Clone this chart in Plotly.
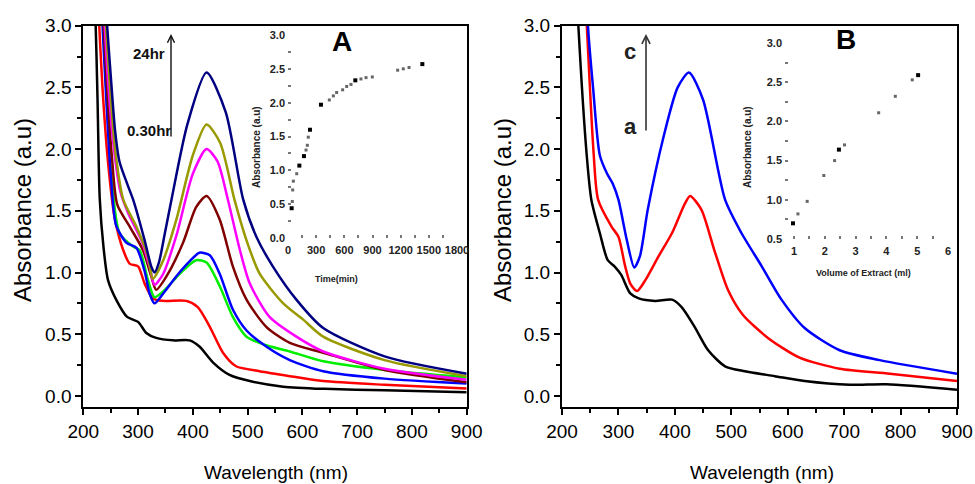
import plotly.graph_objects as go

# ---------------- Panel A spectra (wavelength nm, absorbance) ----------------
A_black_wl = [218, 222, 226, 230, 237, 245, 260, 280, 300, 315, 333, 364, 394, 412, 437, 467, 504, 565, 640, 750, 900]
A_black_ab = [3.5, 3.1, 2.4, 1.6, 1.2, 0.94, 0.78, 0.64, 0.60, 0.51, 0.47, 0.45, 0.45, 0.40, 0.27, 0.17, 0.12, 0.075, 0.057, 0.045, 0.03]

A_red_wl = [224, 228, 235, 245, 257, 273, 285, 300, 312, 327, 346, 388, 409, 431, 455, 479, 522, 577, 638, 750, 900]
A_red_ab = [3.5, 3.1, 2.5, 1.9, 1.45, 1.18, 1.07, 1.05, 0.91, 0.79, 0.77, 0.77, 0.72, 0.56, 0.35, 0.24, 0.20, 0.16, 0.12, 0.09, 0.06]

A_blue_wl = [230, 234, 242, 250, 260, 279, 297, 312, 321, 330, 346, 370, 394, 412, 431, 449, 473, 498, 534, 577, 638, 750, 900]
A_blue_ab = [3.5, 3.1, 2.4, 1.8, 1.38, 1.24, 1.20, 1.01, 0.83, 0.75, 0.83, 0.97, 1.09, 1.16, 1.14, 0.99, 0.70, 0.53, 0.40, 0.29, 0.20, 0.14, 0.10]

A_green_wl = [231, 235, 243, 251, 266, 291, 303, 318, 330, 349, 376, 406, 425, 449, 473, 498, 534, 577, 638, 750, 900]
A_green_ab = [3.5, 3.1, 2.4, 1.8, 1.32, 1.21, 1.18, 0.94, 0.80, 0.86, 0.99, 1.10, 1.08, 0.89, 0.64, 0.48, 0.41, 0.36, 0.28, 0.21, 0.15]

A_brown_wl = [232, 236, 244, 252, 262, 285, 309, 324, 333, 352, 382, 406, 425, 449, 473, 498, 534, 577, 638, 750, 900]
A_brown_ab = [3.5, 3.1, 2.45, 1.95, 1.55, 1.37, 1.18, 0.97, 0.86, 0.97, 1.24, 1.53, 1.62, 1.43, 1.05, 0.78, 0.56, 0.43, 0.35, 0.21, 0.11]

A_magenta_wl = [234, 238, 246, 256, 268, 282, 306, 321, 330, 346, 370, 400, 425, 445, 464, 486, 504, 540, 589, 638, 750, 900]
A_magenta_ab = [3.5, 3.1, 2.5, 2.0, 1.65, 1.48, 1.26, 1.05, 0.90, 0.99, 1.30, 1.80, 2.00, 1.90, 1.59, 1.18, 0.91, 0.64, 0.48, 0.36, 0.22, 0.13]

A_olive_wl = [236, 240, 248, 258, 273, 297, 318, 327, 346, 370, 400, 425, 450, 476, 498, 522, 565, 601, 638, 750, 900]
A_olive_ab = [3.5, 3.1, 2.55, 2.0, 1.59, 1.37, 1.13, 0.95, 1.10, 1.43, 1.95, 2.20, 2.05, 1.59, 1.26, 0.99, 0.75, 0.62, 0.48, 0.29, 0.16]

A_navy_wl = [238, 242, 250, 258, 266, 280, 291, 312, 324, 330, 338, 349, 361, 390, 425, 460, 492, 516, 546, 589, 638, 750, 900]
A_navy_ab = [3.5, 3.1, 2.6, 2.15, 1.9, 1.72, 1.59, 1.26, 1.05, 1.00, 1.08, 1.32, 1.59, 2.20, 2.62, 2.30, 1.59, 1.29, 1.05, 0.78, 0.55, 0.32, 0.18]

# ---------------- Panel B spectra ----------------
B_black_wl = [225, 229, 244, 252, 267, 281, 293, 305, 321, 336, 365, 395, 412, 435, 459, 489, 524, 577, 630, 710, 775, 900]
B_black_ab = [3.4, 3.0, 1.94, 1.59, 1.32, 1.10, 1.05, 0.98, 0.83, 0.79, 0.77, 0.78, 0.72, 0.56, 0.37, 0.24, 0.20, 0.16, 0.12, 0.09, 0.095, 0.05]

B_red_wl = [240, 244, 256, 264, 288, 300, 312, 321, 333, 348, 371, 395, 418, 427, 447, 470, 494, 520, 565, 621, 692, 781, 900]
B_red_ab = [3.4, 3.0, 1.97, 1.59, 1.37, 1.29, 1.05, 0.91, 0.85, 0.94, 1.13, 1.32, 1.56, 1.62, 1.51, 1.18, 0.86, 0.66, 0.47, 0.31, 0.22, 0.18, 0.12]

B_blue_wl = [243, 246, 255, 267, 280, 290, 300, 315, 328, 338, 352, 380, 405, 425, 450, 489, 518, 554, 589, 630, 692, 763, 900]
B_blue_ab = [3.4, 3.0, 2.5, 1.95, 1.80, 1.72, 1.59, 1.26, 1.04, 1.13, 1.51, 2.10, 2.50, 2.62, 2.40, 1.59, 1.32, 1.05, 0.78, 0.55, 0.37, 0.29, 0.18]

# ---------------- Inset A: absorbance vs time ----------------
insA_meas_t = [39, 121, 170, 234, 351, 717, 1431]
insA_meas_ab = [0.44, 1.07, 1.21, 1.60, 1.97, 2.33, 2.57]
insA_fit_t = [46, 50, 57, 93, 192, 206, 216, 440, 483, 518, 582, 625, 671, 777, 831, 898, 1168, 1228, 1289]
insA_fit_ab = [0.54, 0.71, 0.84, 0.95, 1.30, 1.37, 1.49, 2.04, 2.10, 2.15, 2.19, 2.24, 2.27, 2.35, 2.37, 2.38, 2.48, 2.50, 2.52]

# ---------------- Inset B: absorbance vs volume of extract ----------------
insB_meas_v = [0.97, 2.46, 5.03]
insB_meas_ab = [0.70, 1.64, 2.59]
insB_fit_v = [1.13, 1.43, 1.97, 2.32, 2.64, 3.75, 4.29, 4.84]
insB_fit_ab = [0.82, 0.98, 1.31, 1.50, 1.70, 2.11, 2.32, 2.53]

main_xticks = [200, 300, 400, 500, 600, 700, 800, 900]
main_yticks = [0.0, 0.5, 1.0, 1.5, 2.0, 2.5, 3.0]
insA_xticks = [0, 300, 600, 900, 1200, 1500, 1800]
insA_yticks = [0.0, 0.5, 1.0, 1.5, 2.0, 2.5, 3.0]
insB_xticks = [1, 2, 3, 4, 5, 6]
insB_yticks = [0.5, 1.0, 1.5, 2.0, 2.5, 3.0]

W, H = 975, 484
FONT = "Liberation Sans, Arial, sans-serif"


def px(x):
    return x / W


def py(y):
    return 1 - y / H


fig = go.Figure()


def add_line(wl, ab, color, xa, ya):
    fig.add_trace(go.Scatter(x=wl, y=ab, mode="lines", xaxis=xa, yaxis=ya,
                             line=dict(color=color, width=2.5, shape="spline", smoothing=0.7),
                             showlegend=False, hoverinfo="skip"))


for wl, ab, col in [(A_black_wl, A_black_ab, "#000000"),
                    (A_red_wl, A_red_ab, "#ff0000"),
                    (A_green_wl, A_green_ab, "#00ee00"),
                    (A_blue_wl, A_blue_ab, "#0000ff"),
                    (A_brown_wl, A_brown_ab, "#800000"),
                    (A_magenta_wl, A_magenta_ab, "#ff00ff"),
                    (A_olive_wl, A_olive_ab, "#999900"),
                    (A_navy_wl, A_navy_ab, "#000080")]:
    add_line(wl, ab, col, "x", "y")

for wl, ab, col in [(B_black_wl, B_black_ab, "#000000"),
                    (B_red_wl, B_red_ab, "#ff0000"),
                    (B_blue_wl, B_blue_ab, "#0000ff")]:
    add_line(wl, ab, col, "x2", "y2")

# inset markers
fig.add_trace(go.Scatter(x=insA_fit_t, y=insA_fit_ab, mode="markers", xaxis="x3", yaxis="y3",
                         marker=dict(symbol="square", size=3, color="#666666"), showlegend=False))
fig.add_trace(go.Scatter(x=insA_meas_t, y=insA_meas_ab, mode="markers", xaxis="x3", yaxis="y3",
                         marker=dict(symbol="square", size=4, color="#000000"), showlegend=False))
fig.add_trace(go.Scatter(x=insB_fit_v, y=insB_fit_ab, mode="markers", xaxis="x4", yaxis="y4",
                         marker=dict(symbol="square", size=3, color="#666666"), showlegend=False))
fig.add_trace(go.Scatter(x=insB_meas_v, y=insB_meas_ab, mode="markers", xaxis="x4", yaxis="y4",
                         marker=dict(symbol="square", size=4, color="#000000"), showlegend=False))

tickfont = dict(family=FONT, size=19, color="#000000")


def main_x(domain, anchor):
    return dict(domain=domain, range=[200, 900], tickmode="array", tickvals=main_xticks,
                anchor=anchor, automargin=False,
                ticks="outside", ticklen=6, tickwidth=2, tickcolor="#000",
                minor=dict(ticks="outside", ticklen=4, tickwidth=2, dtick=50, tickcolor="#000"),
                showline=True, linecolor="#000", linewidth=2, mirror=True,
                showgrid=False, zeroline=False, tickfont=tickfont)


def main_y(domain, anchor):
    return dict(domain=domain, range=[-0.09, 3.0], tickmode="array", tickvals=main_yticks,
                tickformat=".1f", anchor=anchor, automargin=False,
                ticks="outside", ticklen=6, tickwidth=2, tickcolor="#000",
                minor=dict(ticks="outside", ticklen=4, tickwidth=2, dtick=0.25, tickcolor="#000"),
                showline=True, linecolor="#000", linewidth=2, mirror=True,
                showgrid=False, zeroline=False, tickfont=tickfont)


insfont = dict(family=FONT, size=11, color="#222222", weight="bold")


def ins_axis(domain, rng, vals, anchor, fmt=None, dtick_minor=None, standoff=None):
    d = dict(domain=domain, range=rng, tickmode="array", tickvals=vals, anchor=anchor,
             automargin=False,
             ticks="inside", ticklen=3, tickwidth=2, tickcolor="#777",
             showline=False, showgrid=False, zeroline=False, tickfont=insfont)
    if fmt:
        d["tickformat"] = fmt
    if dtick_minor:
        d["minor"] = dict(ticks="inside", ticklen=3, tickwidth=2, dtick=dtick_minor, tickcolor="#777")
    if standoff is not None:
        d["ticklabelstandoff"] = standoff
    return d


dom_y_main = [py(407), py(25.7)]
fig.update_layout(
    width=W, height=H,
    margin=dict(l=0, r=0, t=0, b=0, pad=0, autoexpand=False),
    paper_bgcolor="white", plot_bgcolor="rgba(0,0,0,0)",
    font=dict(family=FONT),
    xaxis=main_x([px(83.3), px(466.7)], "y"),
    yaxis=main_y(dom_y_main, "x"),
    xaxis2=main_x([px(562), px(957)], "y2"),
    yaxis2=main_y(dom_y_main, "x2"),
    xaxis3=ins_axis([px(288), px(457)], [0, 1800], insA_xticks, "y3", dtick_minor=150, standoff=4),
    yaxis3=ins_axis([py(238), py(35)], [0, 3.0], insA_yticks, "x3", fmt=".1f", dtick_minor=0.25, standoff=2),
    xaxis4=ins_axis([px(785), px(948)], [0.71, 6.0], insB_xticks, "y4", dtick_minor=0.5, standoff=4),
    yaxis4=ins_axis([py(239), py(43)], [0.5, 3.0], insB_yticks, "x4", fmt=".1f", dtick_minor=0.25, standoff=2),
)

ann = []
# axis titles
ann.append(dict(text="Absorbance (a.u)", x=px(22), y=py(210), textangle=-90,
                font=dict(family=FONT, size=24, color="#000")))
ann.append(dict(text="Absorbance (a.u)", x=px(502), y=py(210), textangle=-90,
                font=dict(family=FONT, size=24, color="#000")))
ann.append(dict(text="Wavelength (nm)", x=px(276), y=py(472),
                font=dict(family=FONT, size=19, color="#000")))
ann.append(dict(text="Wavelength (nm)", x=px(762), y=py(472),
                font=dict(family=FONT, size=19, color="#000")))
# inset titles
ann.append(dict(text="Absorbance (a.u)", x=px(257), y=py(147), textangle=-90,
                font=dict(family=FONT, size=10, color="#222", weight="bold")))
ann.append(dict(text="Time(min)", x=px(336), y=py(279),
                font=dict(family=FONT, size=9, color="#222", weight="bold")))
ann.append(dict(text="Absorbance (a.u)", x=px(748), y=py(147), textangle=-90,
                font=dict(family=FONT, size=10, color="#222", weight="bold")))
ann.append(dict(text="Volume of Extract (ml)", x=px(863), y=py(273),
                font=dict(family=FONT, size=9, color="#222", weight="bold")))
# panel letters
ann.append(dict(text="A", x=px(342), y=py(41), font=dict(family=FONT, size=28, color="#000", weight="bold")))
ann.append(dict(text="B", x=px(846), y=py(40), font=dict(family=FONT, size=28, color="#000", weight="bold")))
# arrow labels
ann.append(dict(text="24hr", x=px(167), y=py(53), xanchor="right",
                font=dict(family=FONT, size=15, color="#111", weight="bold")))
ann.append(dict(text="0.30hr", x=px(173), y=py(130), xanchor="right",
                font=dict(family=FONT, size=15, color="#111", weight="bold")))
ann.append(dict(text="c", x=px(630), y=py(51), font=dict(family=FONT, size=22, color="#222", weight="bold")))
ann.append(dict(text="a", x=px(630), y=py(126), font=dict(family=FONT, size=22, color="#222", weight="bold")))

for a in ann:
    a.update(xref="paper", yref="paper", showarrow=False, xanchor=a.get("xanchor", "center"), yanchor="middle")

# arrows
ann.append(dict(x=px(171), y=py(34), ax=0, ay=104, xref="paper", yref="paper", text="",
                showarrow=True, arrowhead=5, arrowsize=1.0, arrowwidth=1.4, arrowcolor="#111"))
ann.append(dict(x=px(646), y=py(34), ax=0, ay=98, xref="paper", yref="paper", text="",
                showarrow=True, arrowhead=5, arrowsize=1.0, arrowwidth=1.6, arrowcolor="#333"))

fig.update_layout(annotations=ann)
fig.write_html("out.html", config={"displayModeBar": False},
               post_script="document.body.style.margin='0';document.body.style.padding='0';")
